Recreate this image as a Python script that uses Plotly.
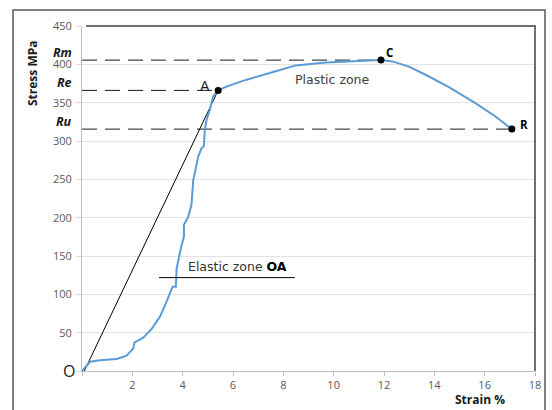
import plotly.graph_objects as go

# Stress-strain curve of the tensile test (strain in %, stress in MPa)
strain = [0.0, 0.32, 0.71, 1.38, 1.77, 2.04, 2.08, 2.43, 2.77, 3.10, 3.36, 3.60, 3.73,
          3.76, 3.96, 4.05, 4.05, 4.22, 4.35, 4.42, 4.62, 4.75, 4.84, 4.88, 4.95, 5.08,
          5.21, 5.41, 5.74, 6.54, 7.70, 8.49, 9.68, 11.0, 11.88, 12.33, 12.99, 13.65,
          14.58, 15.63, 16.43, 17.08]
stress = [0, 12, 14, 15.7, 20, 29.6, 37, 43.5, 55, 71, 90.5, 110, 110,
          134, 164.5, 175, 190.6, 201, 216.7, 249, 279.8, 290.7, 292.8, 314.6, 327.7, 340.7,
          358, 366, 371, 380, 391, 398.6, 402.5, 404.7, 405.5, 403.8, 397, 386.4,
          370.3, 349.5, 332, 315.5]

# Characteristic points: A (yield), C (ultimate), R (rupture)
point_names = ["A", "C", "R"]
point_strain = [5.41, 11.88, 17.08]
point_stress = [366, 405.5, 315.5]

# Reference stress levels
level_names = ["Rm", "Re", "Ru"]
level_values = [405.5, 366, 315.5]
level_ends = [11.88, 5.41, 17.08]

# Elastic modulus line O-A
modulus_x = [0.09, 5.41]
modulus_y = [0, 366]

y_ticks = [0, 50, 100, 150, 200, 250, 300, 350, 400, 450]
x_ticks = [0, 2, 4, 6, 8, 10, 12, 14, 16, 18]

FONT = "Open Sans, DejaVu Sans, sans-serif"
WIDE = "DejaVu Sans, Verdana, sans-serif"

fig = go.Figure()

# dashed reference levels
for name, val, end in zip(level_names, level_values, level_ends):
    fig.add_trace(go.Scatter(x=[0, end], y=[val, val], mode="lines",
                             line=dict(color="#1a1a1a", width=1, dash="15px,8px"),
                             hoverinfo="skip", showlegend=False))

fig.add_trace(go.Scatter(x=modulus_x, y=modulus_y, mode="lines",
                         line=dict(color="#000000", width=1), showlegend=False))

fig.add_trace(go.Scatter(x=strain, y=stress, mode="lines",
                         line=dict(color="#5b9bd5", width=2), showlegend=False))

fig.add_trace(go.Scatter(x=point_strain, y=point_stress, mode="markers",
                         marker=dict(color="#000000", size=7), showlegend=False,
                         cliponaxis=False))

annotations = []
# level labels on the left of the axis
for name, val in zip(level_names, level_values):
    annotations.append(dict(x=-0.017, xref="paper", y=val, yref="y", yshift=8,
                            text="<b><i>%s</i></b>" % name, showarrow=False,
                            xanchor="right", yanchor="middle",
                            font=dict(family=FONT, size=12.5, color="#1a1a1a")))

annotations += [
    dict(x=4.88, y=373, text="A", showarrow=False,
         font=dict(family=FONT, size=15, color="#1a1a1a")),
    dict(x=12.23, y=416, text="<b>C</b>", showarrow=False,
         font=dict(family=FONT, size=11.5, color="#000000")),
    dict(x=17.55, y=322, text="<b>R</b>", showarrow=False,
         font=dict(family=FONT, size=11.5, color="#000000")),
    dict(x=9.95, y=380, text="Plastic zone", showarrow=False,
         font=dict(family=WIDE, size=12.5, color="#404040")),
    dict(x=4.12, y=136, text="Elastic zone <b><span style='color:#000'>OA</span></b>",
         showarrow=False, xanchor="left",
         font=dict(family=WIDE, size=12.5, color="#333333")),
    dict(x=-0.01, xref="paper", y=0, yref="y", text="O", showarrow=False,
         xanchor="right", yanchor="middle",
         font=dict(family=FONT, size=16, color="#1a1a2e")),
    dict(x=-0.108, xref="paper", y=0.864, yref="paper", text="<b>Stress MPa</b>",
         textangle=-90, showarrow=False, xanchor="center", yanchor="middle",
         font=dict(family=FONT, size=12, color="#1a1a1a")),
    dict(x=0.8786, xref="paper", y=-0.084, yref="paper", text="<b>Strain %</b>",
         showarrow=False, xanchor="center", yanchor="middle",
         font=dict(family=FONT, size=12, color="#1a1a1a")),
]

shapes = [
    # outer chart frame
    dict(type="rect", xref="paper", yref="paper", x0=-0.1523, x1=1.0221,
         y0=-0.13, y1=1.0464, line=dict(color="#595959", width=1.5)),
    # plot area frame (top and right)
    dict(type="path", xref="paper", yref="paper", path="M 0.009 1 L 1 1 L 1 0",
         line=dict(color="#404040", width=1.5)),
    # underline of the elastic zone label
    dict(type="line", xref="x", yref="y", x0=3.06, x1=8.45, y0=121.8, y1=121.8,
         line=dict(color="#000000", width=1)),
]

fig.update_layout(
    width=552, height=410,
    margin=dict(l=82, r=17, t=26, b=39),
    paper_bgcolor="white", plot_bgcolor="white",
    font=dict(family=FONT, size=11, color="#595959"),
    annotations=annotations, shapes=shapes,
    xaxis=dict(range=[0, 18], tickvals=x_ticks,
               ticktext=["" if v == 0 else str(v) for v in x_ticks],
               showgrid=False, zeroline=False, showline=True, linecolor="#bfbfbf",
               linewidth=1, ticks="outside", ticklen=4, tickcolor="#bfbfbf",
               tickfont=dict(size=11, color="#595959")),
    yaxis=dict(range=[0, 450], tickvals=y_ticks,
               ticktext=["" if v == 0 else str(v) for v in y_ticks],
               showgrid=True, gridcolor="#e3e3e3", gridwidth=1, zeroline=False,
               showline=True, linecolor="#bfbfbf", linewidth=1,
               ticks="outside", ticklen=5, tickcolor="#d9d9d9",
               ticklabelstandoff=2,
               tickfont=dict(size=11, color="#595959")),
)

fig.write_html("out.html")
